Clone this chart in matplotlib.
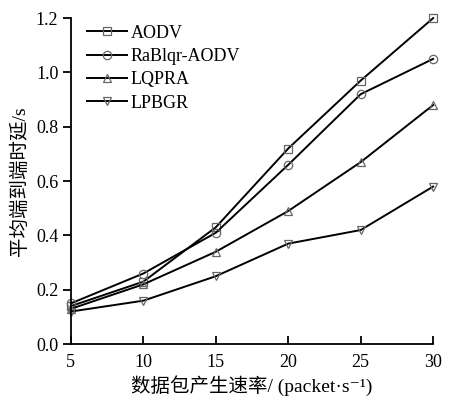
import matplotlib
matplotlib.use("Agg")
import matplotlib.pyplot as plt

plt.rcParams['font.family'] = ['Liberation Serif', 'Noto Sans CJK SC', 'DejaVu Sans']

rate = [5, 10, 15, 20, 25, 30]
aodv = [0.14, 0.23, 0.43, 0.72, 0.97, 1.20]
rablqr = [0.15, 0.26, 0.41, 0.66, 0.92, 1.05]
lqpra = [0.13, 0.22, 0.34, 0.49, 0.67, 0.88]
lpbgr = [0.12, 0.16, 0.25, 0.37, 0.42, 0.58]

series = [('AODV', aodv, 's'), ('RaBlqr-AODV', rablqr, 'o'),
          ('LQPRA', lqpra, '^'), ('LPBGR', lpbgr, 'v')]

fig = plt.figure(figsize=(4.54, 4.03), dpi=100)
ax = fig.add_axes([0.156, 0.146, 0.798, 0.809])

for name, vals, mk in series:
    ax.plot(rate, vals, color='black', lw=1.4, marker=mk, markersize=6,
            markerfacecolor='none', markeredgecolor='#666666', markeredgewidth=0.9,
            label=name, clip_on=False)

ax.set_xlim(5, 30)
ax.set_ylim(0, 1.2)
ax.set_xticks([5, 10, 15, 20, 25, 30])
ax.set_yticks([0.0, 0.2, 0.4, 0.6, 0.8, 1.0, 1.2])
ax.set_yticklabels(['0.0', '0.2', '0.4', '0.6', '0.8', '1.0', '1.2'])
ax.spines['top'].set_visible(False)
ax.spines['right'].set_visible(False)
for s in ['left', 'bottom']:
    ax.spines[s].set_linewidth(1.3)
ax.tick_params(axis='x', direction='in', length=6, width=1.3, labelsize=13, pad=7)
ax.tick_params(axis='y', direction='out', length=6, width=1.3, labelsize=13, pad=3)

ax.set_xlabel('数据包产生速率/ (packet·s⁻¹)', fontsize=14, labelpad=3)
ax.set_ylabel('平均端到端时延/s', fontsize=14, labelpad=5)

ax.legend(loc='upper left', frameon=False, fontsize=13, handlelength=2.2,
          handletextpad=0.2, labelspacing=0.35, bbox_to_anchor=(0.0, 1.03))

fig.savefig('out.png', dpi=100)
